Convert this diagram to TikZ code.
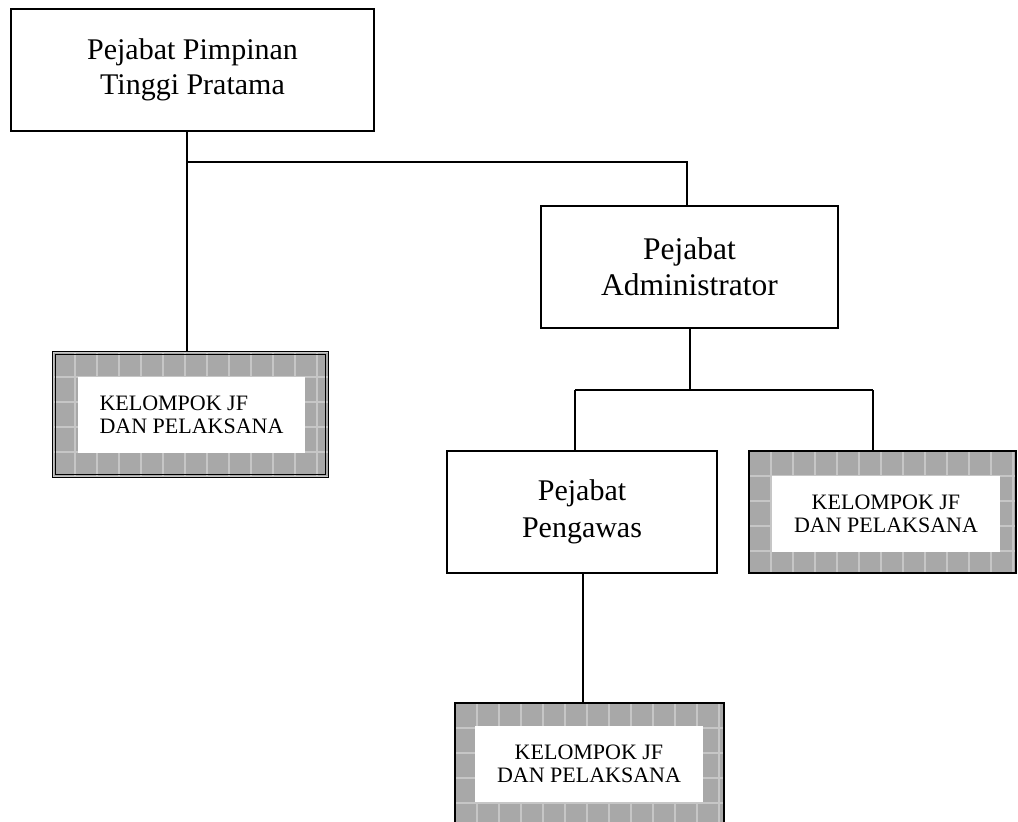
\documentclass[tikz,border=0pt]{standalone}
\usepackage{fontspec}
\setmainfont{Liberation Serif}
\definecolor{tilegray}{RGB}{168,168,168}
\definecolor{tileline}{RGB}{198,198,198}
\definecolor{tileshade}{RGB}{150,150,150}
% soft tile seams over a grey box, aligned to its top-left corner
\newcommand\tileseams[1]{%
  \begin{scope}
    \clip (#1.north west) rectangle (#1.south east);
    \begin{scope}[shift={(#1.north west)}]
      \draw[tileshade, line width=0.8pt] (1.4pt,-151.4pt) grid[xstep=22pt, ystep=25pt] (301.4pt,1.4pt);
      \draw[tileline, line width=1.4pt] (0pt,-150pt) grid[xstep=22pt, ystep=25pt] (300pt,0pt);
    \end{scope}
  \end{scope}}
\begin{document}
\begin{tikzpicture}[x=1pt,y=-1pt,
  office/.style={draw, line width=2pt, fill=white, inner sep=0pt, align=center},
  tiled/.style={fill=tilegray, inner sep=0pt},
  frame/.style={draw, line width=2.2pt},
  label/.style={fill=white, inner sep=0pt, align=center,
    font=\fontsize{22}{23}\selectfont},
  link/.style={line width=2pt}]

\useasboundingbox (0,0) rectangle (1018,822);

% posts
\node[office, minimum width=363pt, minimum height=122pt,
  font=\fontsize{30}{35}\selectfont] (top) at (192.5,70)
  {Pejabat Pimpinan\\Tinggi Pratama};
\node[office, minimum width=297pt, minimum height=122pt,
  font=\fontsize{31.5}{36}\selectfont] (admin) at (689.5,267)
  {Pejabat\\Administrator};
\node[office, minimum width=270pt, minimum height=122pt,
  font=\fontsize{30}{37}\selectfont] (peng) at (582,512)
  {Pejabat\\Pengawas};

% functional groups
\node[tiled, minimum width=275pt, minimum height=125pt] (ljf) at (190.5,414.5) {};
\tileseams{ljf}
\draw[line width=1pt] (ljf.north west) rectangle (ljf.south east);
\draw[line width=1.4pt] ([shift={(2.5pt,-2.5pt)}]ljf.north west) rectangle ([shift={(-2.5pt,2.5pt)}]ljf.south east);
\node[label, align=left, minimum width=227pt, minimum height=76pt] (ljft) at (191.5,415)
  {KELOMPOK JF\\DAN PELAKSANA};

\node[tiled, minimum width=267pt, minimum height=122pt] (rjf) at (882.5,512) {};
\tileseams{rjf}
\draw[frame] (rjf.north west) rectangle (rjf.south east);
\node[label, minimum width=228pt, minimum height=76pt] (rjft) at (886,514)
  {KELOMPOK JF\\DAN PELAKSANA};

\node[tiled, minimum width=269pt, minimum height=125pt] (bjf) at (589.5,765.5) {};
\tileseams{bjf}
\draw[frame] (bjf.north west) rectangle (bjf.south east);
\node[label, minimum width=228pt, minimum height=76pt] (bjft) at (589,764)
  {KELOMPOK JF\\DAN PELAKSANA};

% connectors
\coordinate (j1) at (187,162);
\coordinate (b1) at (575,390);
\coordinate (b2) at (873,390);
\draw[link] (top.south -| j1) -- (j1 |- ljf.north);
\draw[link] (j1) -| (admin.north -| 687,0);
\draw[link] (admin.south -| 690,0) -- (690,0 |- b1);
\draw[link] (b1) -- (b2);
\draw[link] (b1) -- (b1 |- peng.north);
\draw[link] (b2) -- (b2 |- rjf.north);
\draw[link] (peng.south -| 583,0) -- (583,0 |- bjf.north);
\end{tikzpicture}
\end{document}
